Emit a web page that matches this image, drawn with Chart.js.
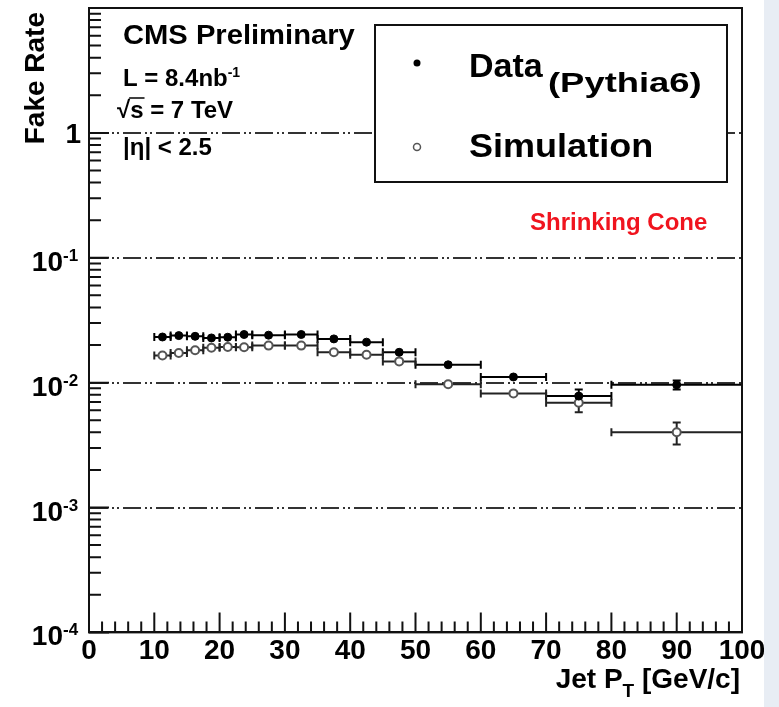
<!DOCTYPE html>
<html>
<head>
<meta charset="utf-8">
<title>Fake Rate vs Jet pT</title>
<script src="https://cdn.jsdelivr.net/npm/chart.js@4.4.1/dist/chart.umd.min.js"></script>
<style>
  html, body { margin: 0; padding: 0; background: #fff; }
  #wrap { position: relative; width: 779px; height: 707px; overflow: hidden; }
  #edge { position: absolute; left: 764px; top: 0; width: 15px; height: 707px; background: #e8edf4; }
</style>
</head>
<body>
<div id="wrap">
  <canvas id="chart" width="779" height="707"></canvas>
  <div id="edge"></div>
</div>
<script>
// bins in jet pT [GeV/c]
const ptCenters    = [11.25, 13.75, 16.25, 18.75, 21.25, 23.75, 27.5, 32.5, 37.5, 42.5, 47.5, 55, 65, 75, 90];
const ptHalfWidths = [1.25, 1.25, 1.25, 1.25, 1.25, 1.25, 2.5, 2.5, 2.5, 2.5, 2.5, 5, 5, 5, 10];

// fake rate, data
const dataRate = [0.0232, 0.0238, 0.0235, 0.0228, 0.0231, 0.0243, 0.0240, 0.0243, 0.0224, 0.0211, 0.0175, 0.0139, 0.0111, 0.0078, 0.0096];
const dataErr  = [0.0006, 0.0006, 0.0006, 0.0006, 0.0006, 0.0006, 0.0005, 0.0005, 0.0005, 0.0005, 0.0005, 0.0005, 0.0006, 0.0010, 0.0008];

// fake rate, simulation (Pythia6)
const simRate = [0.0165, 0.0173, 0.0182, 0.0190, 0.0193, 0.0192, 0.0198, 0.0198, 0.0175, 0.0167, 0.0148, 0.0097, 0.0082, 0.0069, 0.0040];
const simErr  = [0.0004, 0.0004, 0.0004, 0.0004, 0.0004, 0.0004, 0.0004, 0.0004, 0.0004, 0.0004, 0.0004, 0.0004, 0.0005, 0.0011, 0.0008];

// axis decades
const yLabelDecades = [-4, -3, -2, -1, 0];
const gridDecades = [0, -1, -2, -3];

const FONT = "'Liberation Sans', Arial, Helvetica, sans-serif";

function drawText(ctx, text, x, y, size, opts = {}) {
  ctx.save();
  ctx.font = `bold ${size}px ${FONT}`;
  ctx.fillStyle = opts.color || '#000';
  ctx.textAlign = opts.align || 'left';
  ctx.textBaseline = 'alphabetic';
  ctx.translate(x, y);
  if (opts.rotate) ctx.rotate(opts.rotate);
  ctx.scale(opts.sx || 1, 1);
  ctx.fillText(text, 0, 0);
  const w = ctx.measureText(text).width * (opts.sx || 1);
  ctx.restore();
  return w;
}

function isGridDecade(v) {
  return gridDecades.some(d => Math.abs(Math.log10(v) - d) < 1e-6);
}

// horizontal bin bars + vertical stat errors, ROOT style with end caps
const errorBars = {
  id: 'errorBars',
  beforeDatasetsDraw(chart) {
    const { ctx } = chart;
    const xs = chart.scales.x, ys = chart.scales.y;
    chart.data.datasets.forEach(ds => {
      ctx.save();
      ctx.strokeStyle = ds.errorColor;
      ctx.lineWidth = 2;
      ds.data.forEach((p, i) => {
        const yc = ys.getPixelForValue(p.y);
        const xc = xs.getPixelForValue(p.x);
        const x1 = xs.getPixelForValue(p.x - ds.xErr[i]);
        const x2 = xs.getPixelForValue(p.x + ds.xErr[i]);
        const yHi = ys.getPixelForValue(p.y + ds.yErr[i]);
        const yLo = ys.getPixelForValue(p.y - ds.yErr[i]);
        ctx.beginPath();
        ctx.moveTo(x1, yc); ctx.lineTo(x2, yc);
        ctx.moveTo(x1, yc - 4); ctx.lineTo(x1, yc + 4);
        ctx.moveTo(x2, yc - 4); ctx.lineTo(x2, yc + 4);
        if (yLo - yHi > 9) {
          ctx.moveTo(xc, yHi); ctx.lineTo(xc, yLo);
          ctx.moveTo(xc - 4, yHi); ctx.lineTo(xc + 4, yHi);
          ctx.moveTo(xc - 4, yLo); ctx.lineTo(xc + 4, yLo);
        }
        ctx.stroke();
      });
      ctx.restore();
    });
  }
};

// frame, inward ticks, labels and the text boxes
const decorations = {
  id: 'decorations',
  afterDraw(chart) {
    const { ctx, chartArea: a } = chart;
    const xs = chart.scales.x, ys = chart.scales.y;

    ctx.save();
    ctx.strokeStyle = '#111';
    ctx.lineWidth = 2;
    ctx.strokeRect(a.left, a.top, a.right - a.left, a.bottom - a.top);

    ctx.beginPath();
    for (let v = 0; v <= 100; v += 2) {
      const x = xs.getPixelForValue(v);
      const len = v % 10 === 0 ? 20 : 11;
      ctx.moveTo(x, a.bottom); ctx.lineTo(x, a.bottom - len);
    }
    for (let d = -4; d < 1; d++) {
      for (let m = 1; m <= 9; m++) {
        const y = ys.getPixelForValue(m * Math.pow(10, d));
        const len = m === 1 ? 20 : 12;
        ctx.moveTo(a.left, y); ctx.lineTo(a.left + len, y);
      }
    }
    ctx.stroke();
    ctx.restore();

    // y tick labels with exponents
    yLabelDecades.forEach(d => {
      const y = ys.getPixelForValue(Math.pow(10, d));
      if (d === 0) {
        drawText(ctx, '1', 81, y + 10, 28, { align: 'right' });
      } else {
        drawText(ctx, '10', 63, y + 13, 28, { align: 'right' });
        drawText(ctx, String(d), 63, y + 3, 17);
      }
    });

    // axis titles
    drawText(ctx, 'Fake Rate', 44, 12, 28, { align: 'right', rotate: -Math.PI / 2 });
    const wTail = drawText(ctx, ' [GeV/c]', 740, 688, 28, { align: 'right' });
    const wSub = drawText(ctx, 'T', 740 - wTail, 697, 19, { align: 'right' });
    drawText(ctx, 'Jet P', 740 - wTail - wSub, 688, 28, { align: 'right' });

    // CMS labels
    drawText(ctx, 'CMS Preliminary', 123, 44, 27, { sx: 1.08 });
    const wL = drawText(ctx, 'L = 8.4nb', 123, 86, 24);
    drawText(ctx, '-1', 123 + wL, 77, 14);
    const wRad = drawText(ctx, '\u221A', 117, 118, 24);
    const wS = drawText(ctx, 's', 117 + wRad, 118, 24);
    drawText(ctx, ' = 7 TeV', 117 + wRad + wS, 118, 24);
    ctx.save();
    ctx.strokeStyle = '#000'; ctx.lineWidth = 1.5;
    ctx.beginPath();
    ctx.moveTo(117 + wRad - 1, 98); ctx.lineTo(117 + wRad + wS + 1, 98);
    ctx.stroke();
    ctx.restore();
    drawText(ctx, '|\u03B7| < 2.5', 123, 155, 24);

    drawText(ctx, 'Shrinking Cone', 530, 230, 24, { color: '#f0141e' });

    // legend box
    ctx.save();
    ctx.fillStyle = '#fff';
    ctx.fillRect(375, 25, 352, 157);
    ctx.strokeStyle = '#111'; ctx.lineWidth = 2;
    ctx.strokeRect(375, 25, 352, 157);
    const [dData, dSim] = chart.data.datasets;
    ctx.beginPath();
    ctx.arc(417, 63, 3.5, 0, Math.PI * 2);
    ctx.fillStyle = dData.backgroundColor; ctx.fill();
    ctx.beginPath();
    ctx.arc(417, 147, 3.5, 0, Math.PI * 2);
    ctx.fillStyle = dSim.backgroundColor; ctx.fill();
    ctx.strokeStyle = dSim.borderColor; ctx.lineWidth = 1.5; ctx.stroke();
    ctx.restore();
    drawText(ctx, dData.label, 469, 77, 34);
    drawText(ctx, '(Pythia6)', 548, 92, 28, { sx: 1.3 });
    drawText(ctx, dSim.label, 469, 157, 34, { sx: 1.06 });
  }
};

const toPoints = (vals) => ptCenters.map((x, i) => ({ x, y: vals[i] }));

new Chart(document.getElementById('chart'), {
  type: 'scatter',
  data: {
    datasets: [
      {
        label: 'Data',
        data: toPoints(dataRate),
        xErr: ptHalfWidths,
        yErr: dataErr,
        errorColor: '#000',
        backgroundColor: '#000',
        borderColor: '#000',
        borderWidth: 1,
        pointRadius: 4
      },
      {
        label: 'Simulation',
        data: toPoints(simRate),
        xErr: ptHalfWidths,
        yErr: simErr,
        errorColor: '#222',
        backgroundColor: '#fff',
        borderColor: '#555',
        borderWidth: 2,
        pointRadius: 4
      }
    ]
  },
  options: {
    responsive: false,
    animation: false,
    devicePixelRatio: 1,
    layout: { padding: { left: 89, right: 37, top: 8, bottom: 37 } },
    plugins: { legend: { display: false }, tooltip: { enabled: false } },
    scales: {
      x: {
        type: 'linear',
        min: 0,
        max: 100,
        grid: { display: false, drawTicks: false },
        border: { display: true, color: '#111', width: 2 },
        ticks: {
          stepSize: 10,
          color: '#000',
          padding: 2,
          maxRotation: 0,
          autoSkip: false,
          font: { family: FONT, size: 28, weight: 'bold' }
        }
      },
      y: {
        type: 'logarithmic',
        min: 1e-4,
        max: 10,
        ticks: { display: false },
        grid: {
          drawTicks: false,
          lineWidth: 2,
          color: c => (c.tick && isGridDecade(c.tick.value)) ? '#333' : 'rgba(0,0,0,0)'
        },
        border: { display: true, color: '#111', width: 2, dash: [18, 4, 2, 3, 2, 4] }
      }
    }
  },
  plugins: [errorBars, decorations]
});
</script>
</body>
</html>
